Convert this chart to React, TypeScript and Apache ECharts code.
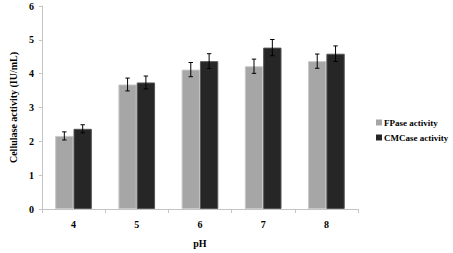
import React, { useEffect, useRef } from "react";
import * as echarts from "echarts";

const categories = ["4", "5", "6", "7", "8"];
const fpase = [2.16, 3.68, 4.12, 4.22, 4.37];
const fpaseErr = [0.12, 0.19, 0.21, 0.21, 0.21];
const cmcase = [2.37, 3.74, 4.37, 4.77, 4.59];
const cmcaseErr = [0.12, 0.19, 0.22, 0.24, 0.23];
const yTicks = { min: 0, max: 6, interval: 1 };

const FONT = "'Liberation Serif', 'Times New Roman', serif";
const CAT_GAP = 0.42;

function errSeries(name: string, vals: number[], errs: number[], side: number) {
  return {
    type: "custom",
    name: name + "_err",
    silent: true,
    z: 10,
    data: vals.map((v, i) => [i, v, errs[i]]),
    renderItem: (params: any, api: any) => {
      const idx = api.value(0);
      const v = api.value(1);
      const e = api.value(2);
      const band = api.size([1, 0])[0];
      const bw = (band * (1 - CAT_GAP)) / 2;
      const center = api.coord([idx, v]);
      const x = center[0] + side * bw / 2;
      const top = api.coord([idx, v + e])[1];
      const bot = api.coord([idx, v - e])[1];
      const cap = 2.2;
      const style = { stroke: "#000", lineWidth: 1 };
      return {
        type: "group",
        children: [
          { type: "line", shape: { x1: x, y1: top, x2: x, y2: bot }, style },
          { type: "line", shape: { x1: x - cap, y1: top, x2: x + cap, y2: top }, style },
          { type: "line", shape: { x1: x - cap, y1: bot, x2: x + cap, y2: bot }, style },
        ],
      };
    },
  };
}

export default function App() {
  const ref = useRef<HTMLDivElement>(null);
  useEffect(() => {
    if (!ref.current) return;
    const chart = echarts.init(ref.current, null, { renderer: "svg" });
    chart.setOption({
      animation: false,
      backgroundColor: "#fff",
      textStyle: { fontFamily: FONT },
      grid: { left: 37, right: 95, top: 6, bottom: 41 },
      legend: {
        orient: "vertical",
        left: 371,
        top: 113,
        itemWidth: 6,
        itemHeight: 6,
        itemGap: 6,
        icon: "rect",
        itemStyle: { borderWidth: 0 },
        data: ["FPase activity", "CMCase activity"],
        textStyle: { fontFamily: FONT, fontWeight: "bold", fontSize: 9, color: "#000", padding: [0, 0, 0, -3] },
      },
      xAxis: {
        type: "category",
        data: categories,
        name: "pH",
        nameLocation: "middle",
        nameGap: 29,
        nameTextStyle: { fontFamily: FONT, fontWeight: "bold", fontSize: 10, color: "#000" },
        axisLine: { lineStyle: { color: "#c4c4c4", width: 1 } },
        axisTick: { show: true, length: 4, lineStyle: { color: "#c4c4c4" } },
        axisLabel: { margin: 10, fontFamily: FONT, fontWeight: "bold", fontSize: 10, color: "#000" },
      },
      yAxis: {
        type: "value",
        min: yTicks.min,
        max: yTicks.max,
        interval: yTicks.interval,
        name: "Cellulase activity (IU/mL)",
        nameLocation: "middle",
        nameGap: 17,
        nameTextStyle: { fontFamily: FONT, fontWeight: "bold", fontSize: 10, color: "#000" },
        axisLine: { show: true, lineStyle: { color: "#c4c4c4", width: 1 } },
        axisTick: { show: true, length: 3, lineStyle: { color: "#c4c4c4" } },
        splitLine: { show: false },
        axisLabel: { margin: 8, fontFamily: FONT, fontWeight: "bold", fontSize: 10, color: "#000" },
      },
      series: [
        {
          type: "bar",
          name: "FPase activity",
          data: fpase,
          barGap: "0%",
          barCategoryGap: CAT_GAP * 100 + "%",
          itemStyle: { color: "#a6a6a6", borderColor: "#c8c8c8", borderWidth: 1 },
        },
        {
          type: "bar",
          name: "CMCase activity",
          data: cmcase,
          barGap: "0%",
          barCategoryGap: CAT_GAP * 100 + "%",
          itemStyle: { color: "#262626", borderColor: "#555", borderWidth: 1 },
        },
        errSeries("FPase activity", fpase, fpaseErr, -1),
        errSeries("CMCase activity", cmcase, cmcaseErr, 1),
      ],
    });
    return () => chart.dispose();
  }, []);
  return <div ref={ref} style={{ width: 453, height: 253, position: "absolute", left: 0, top: 0 }} />;
}
